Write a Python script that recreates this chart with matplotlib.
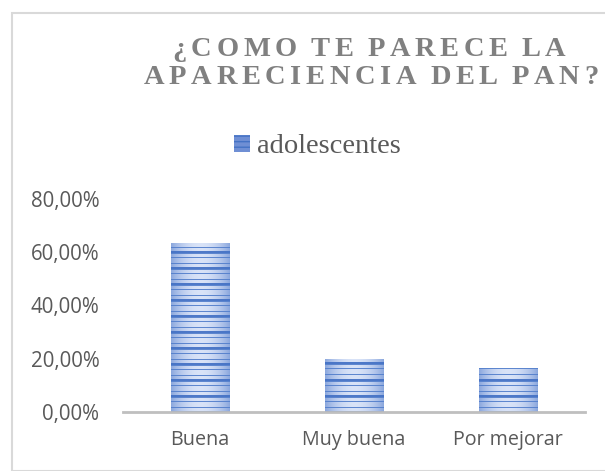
import matplotlib
matplotlib.use('Agg')
import matplotlib.pyplot as plt
import numpy as np
from matplotlib.patches import Rectangle

categories = ['Buena', 'Muy buena', 'Por mejorar']
values = [63.33, 20.00, 16.67]
series_name = 'adolescentes'
yticks = [0, 20, 40, 60, 80]
ytick_labels = ['0,00%', '20,00%', '40,00%', '60,00%', '80,00%']
title_lines = ['¿COMO TE PARECE LA', 'APARECIENCIA DEL PAN?']

W, H = 605, 471
title_kw = dict(fontname='Liberation Serif', fontweight='bold', fontsize=20.5, color='#808080')


def tracked_text(fig, text, xc, yc, gap, word_gap, **kw):
    # letter-spaced text, placed one glyph at a time (pixel units)
    renderer = fig.canvas.get_renderer()
    widths = []
    for ch in text:
        if ch == ' ':
            widths.append(None)
            continue
        t = fig.text(0, 0, ch, **kw)
        widths.append(t.get_window_extent(renderer).width)
        t.remove()
    steps = []
    for i, w in enumerate(widths):
        if w is None:
            continue
        steps.append(w)
        if i + 1 < len(widths):
            steps.append(word_gap if widths[i + 1] is None else gap)
    total = sum(steps)
    x = xc - total / 2
    for ch, w in zip(text, widths):
        if w is None:
            x += word_gap - gap
            continue
        fig.text(x / W, 1 - yc / H, ch, ha='left', va='center', **kw)
        x += w + gap
    return total


def stripe_texture(nrows, ncols):
    # light gradient across the bar, repeating narrow horizontal stripes
    x = np.linspace(-1, 1, ncols)
    light = np.array([0.85, 0.89, 0.97])
    edge = np.array([0.55, 0.66, 0.87])
    w = np.abs(x)[None, :, None] ** 2
    base = light * (1 - w) + edge * w
    img = np.repeat(base, nrows, axis=0)
    dark = np.array([0.26, 0.44, 0.77])
    thin = np.array([0.33, 0.50, 0.80])
    pattern = {0: thin, 4: dark, 5: dark, 6: thin, 10: thin}
    for r in range(nrows):
        c = pattern.get(r % 16)
        if c is not None:
            img[r, :, :] = c * 0.92 + img[r, :, :] * 0.08
    return img


fig = plt.figure(figsize=(W / 100, H / 100), dpi=100)
ax = fig.add_axes([123 / W, 1 - 412 / H, 462 / W, 213 / H])

x = np.arange(len(categories))
bars = ax.bar(x, values, width=0.383, color='#c9d6ef', linewidth=0, zorder=2)

tex = stripe_texture(213, 60)
for b in bars:
    x0 = b.get_x()
    im = ax.imshow(tex, extent=(x0, x0 + b.get_width(), 0, 80), aspect='auto',
                   interpolation='nearest', origin='upper', zorder=3)
    im.set_clip_path(b)

ax.set_xlim(-0.5, len(categories) - 0.5)
ax.set_ylim(0, 80)
ax.set_xticks(x)
ax.set_xticklabels(categories, fontname='Open Sans', fontsize=14.2, color='#595959')
ax.set_yticks(yticks)
ax.set_yticklabels(ytick_labels, fontname='Open Sans', fontsize=14.8, color='#595959')
ax.tick_params(length=0)
ax.tick_params(axis='y', pad=17)
ax.tick_params(axis='x', pad=13)
for s in ['top', 'right', 'left']:
    ax.spines[s].set_visible(False)
ax.spines['bottom'].set_color('#bfbfbf')
ax.spines['bottom'].set_linewidth(2)
ax.spines['bottom'].set_zorder(4)

tracked_text(fig, title_lines[0], 369, 50, 4.6, 14, **title_kw)
tracked_text(fig, title_lines[1], 371, 78, 4.6, 14, **title_kw)

handle = Rectangle((0, 0), 1, 1, facecolor='#6f8fd4', edgecolor='#4472c4', hatch='---', linewidth=0)
fig.legend([handle], [series_name], loc='center', bbox_to_anchor=(317.5 / W, 1 - 147 / H),
           frameon=False, borderpad=0, handlelength=0.56, handleheight=0.53, handletextpad=0.25,
           prop={'family': 'Liberation Serif', 'size': 20.5}, labelcolor='#595959')

fig.patches.append(Rectangle((12 / W, 0), 1.2, 1 - 13 / H, transform=fig.transFigure,
                             fill=False, edgecolor='#d9d9d9', linewidth=1.5))

fig.savefig('out.png', dpi=100)
